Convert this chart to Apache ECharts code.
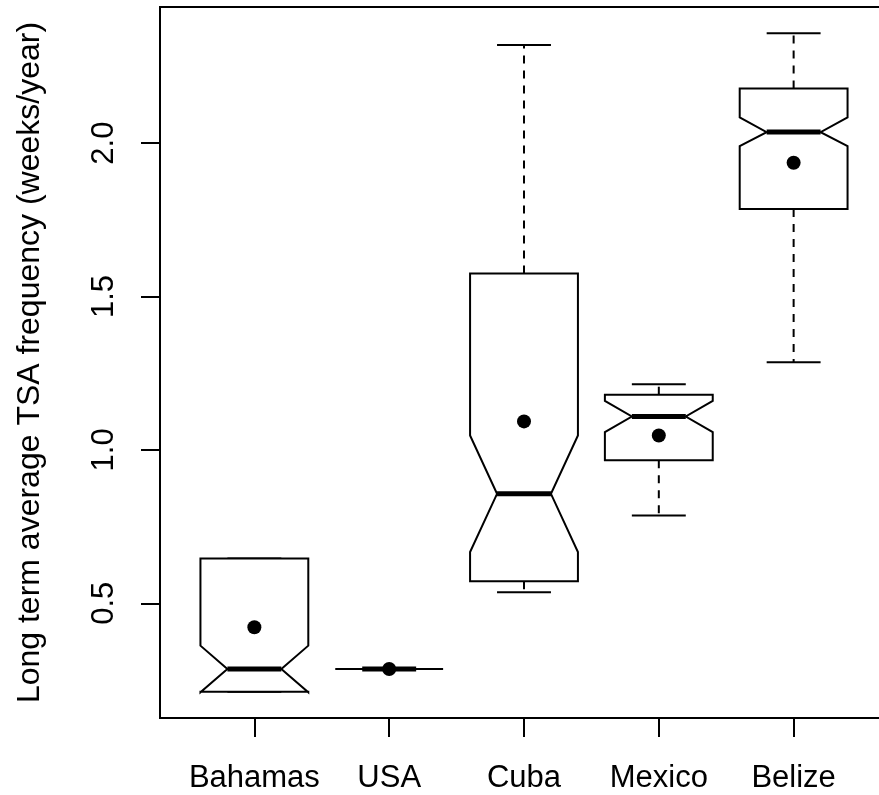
<!DOCTYPE html>
<html>
<head>
<meta charset="utf-8">
<script src="https://cdn.jsdelivr.net/npm/echarts@6/dist/echarts.min.js"></script>
<style>
  html, body { margin: 0; padding: 0; background: #fff; }
  #chart { width: 879px; height: 795px; }
</style>
</head>
<body>
<div id="chart"></div>
<script>
// ---- data ----
const categories   = ['Bahamas', 'USA', 'Cuba', 'Mexico', 'Belize'];
const whiskerLow   = [0.212, 0.286, 0.536, 0.786, 1.286];
const quartile1    = [0.212, 0.286, 0.572, 0.966, 1.785];
const notchLow     = [0.210, 0.286, 0.667, 1.058, 1.990];
const medians      = [0.286, 0.286, 0.857, 1.109, 2.036];
const notchHigh    = [0.362, 0.286, 1.047, 1.160, 2.084];
const quartile3    = [0.646, 0.286, 1.575, 1.180, 2.178];
const whiskerHigh  = [0.646, 0.286, 2.320, 1.214, 2.358];
const means        = [0.422, 0.286, 1.093, 1.047, 1.936];
const yTicks       = [0.5, 1.0, 1.5, 2.0];
const yTitle       = 'Long term average TSA frequency (weeks/year)';

// R-style 4% range extension
const dMin = Math.min(...whiskerLow), dMax = Math.max(...whiskerHigh);
const ext = (dMax - dMin) * 0.04;
const xPositions = categories.map((c, i) => i + 1);

const boxData = categories.map((c, i) => [
  xPositions[i], whiskerLow[i], quartile1[i], notchLow[i], medians[i],
  notchHigh[i], quartile3[i], whiskerHigh[i]
]);
const meanData = categories.map((c, i) => [xPositions[i], means[i]]);

const FONT = '"Liberation Sans", Arial, Helvetica, sans-serif';
const LW = 2;

function renderBox(params, api) {
  const x = api.value(0);
  const wLo = api.value(1), q1 = api.value(2), nLo = api.value(3), med = api.value(4),
        nHi = api.value(5), q3 = api.value(6), wHi = api.value(7);
  const hw = api.size([0.8, 0])[0] / 2;
  const nw = hw * 0.5;
  const sw = hw * 0.5;
  const cx = api.coord([x, med])[0];
  const Y = v => api.coord([x, v])[1];
  const pts = [
    [cx - hw, Y(q1)], [cx - hw, Y(nLo)], [cx - nw, Y(med)], [cx - hw, Y(nHi)], [cx - hw, Y(q3)],
    [cx + hw, Y(q3)], [cx + hw, Y(nHi)], [cx + nw, Y(med)], [cx + hw, Y(nLo)], [cx + hw, Y(q1)]
  ];
  const dash = { stroke: '#000', lineWidth: LW, lineDash: [8, 7] };
  const solid = { stroke: '#000', lineWidth: LW };
  return {
    type: 'group',
    children: [
      { type: 'line', shape: { x1: cx, y1: Y(q3), x2: cx, y2: Y(wHi) }, style: dash },
      { type: 'line', shape: { x1: cx, y1: Y(q1), x2: cx, y2: Y(wLo) }, style: dash },
      { type: 'line', shape: { x1: cx - sw, y1: Y(wHi), x2: cx + sw, y2: Y(wHi) }, style: solid },
      { type: 'line', shape: { x1: cx - sw, y1: Y(wLo), x2: cx + sw, y2: Y(wLo) }, style: solid },
      { type: 'polygon', shape: { points: pts }, style: { fill: '#fff', stroke: '#000', lineWidth: LW, lineJoin: 'miter' } },
      { type: 'line', shape: { x1: cx - nw, y1: Y(med), x2: cx + nw, y2: Y(med) }, style: { stroke: '#000', lineWidth: 5 } }
    ]
  };
}

const chart = echarts.init(document.getElementById('chart'), null, { renderer: 'canvas' });
chart.setOption({
  backgroundColor: '#fff',
  animation: false,
  textStyle: { fontFamily: FONT },
  grid: {
    left: 160, top: 7, width: 728, height: 711,
    outerBoundsMode: 'none',
    containLabel: false,
    show: true, borderColor: '#000', borderWidth: 2, backgroundColor: 'transparent'
  },
  xAxis: {
    type: 'value',
    min: 0.3, max: 5.7,
    axisLine: { show: false },
    splitLine: { show: false },
    axisTick: { show: true, customValues: xPositions, length: 19, lineStyle: { color: '#000', width: 2 } },
    axisLabel: {
      show: true, customValues: xPositions, margin: 45,
      fontSize: 31, color: '#000', fontFamily: FONT,
      formatter: v => categories[Math.round(v) - 1] || ''
    }
  },
  yAxis: {
    type: 'value',
    min: dMin - ext, max: dMax + ext,
    axisLine: { show: false },
    splitLine: { show: false },
    axisTick: { show: true, customValues: yTicks, length: 19, lineStyle: { color: '#000', width: 2 } },
    axisLabel: {
      show: true, customValues: yTicks, margin: 40, rotate: 90,
      fontSize: 31, color: '#000', fontFamily: FONT,
      formatter: v => v.toFixed(1)
    },
    name: yTitle,
    nameLocation: 'middle',
    nameGap: 114,
    nameTextStyle: { fontSize: 32, color: '#000', fontFamily: FONT }
  },
  series: [
    {
      type: 'custom',
      renderItem: renderBox,
      data: boxData,
      encode: { x: 0, y: [1, 2, 3, 4, 5, 6, 7] },
      clip: false,
      z: 2
    },
    {
      type: 'scatter',
      data: meanData,
      symbol: 'circle',
      symbolSize: 14,
      itemStyle: { color: '#000', opacity: 1 },
      z: 3
    }
  ]
});
</script>
</body>
</html>
